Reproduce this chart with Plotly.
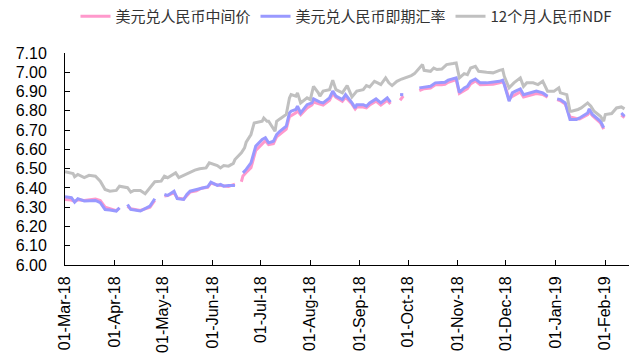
import plotly.graph_objects as go

# Onshore trading dates (None entries mark market holidays)
cny_dates = [
    "2018-03-01", "2018-03-05", "2018-03-07", "2018-03-09", "2018-03-13", "2018-03-16",
    "2018-03-20", "2018-03-23", "2018-03-26", "2018-03-29", "2018-04-02", "2018-04-04",
    "2018-04-05", "2018-04-09", "2018-04-11", "2018-04-17", "2018-04-20", "2018-04-23",
    "2018-04-26", "2018-04-30", "2018-05-02", "2018-05-04", "2018-05-08", "2018-05-10",
    "2018-05-14", "2018-05-16", "2018-05-18", "2018-05-22", "2018-05-25", "2018-05-29",
    "2018-05-31", "2018-06-04", "2018-06-06", "2018-06-08", "2018-06-11", "2018-06-15",
    "2018-06-18", "2018-06-19", "2018-06-20", "2018-06-22", "2018-06-25", "2018-06-28",
    "2018-07-02", "2018-07-04", "2018-07-06", "2018-07-09", "2018-07-11", "2018-07-13",
    "2018-07-17", "2018-07-19", "2018-07-20", "2018-07-23", "2018-07-24", "2018-07-26",
    "2018-07-30", "2018-08-02", "2018-08-03", "2018-08-07", "2018-08-09", "2018-08-13",
    "2018-08-15", "2018-08-17", "2018-08-21", "2018-08-23", "2018-08-27", "2018-08-29",
    "2018-08-30", "2018-09-03", "2018-09-05", "2018-09-07", "2018-09-11", "2018-09-14",
    "2018-09-18", "2018-09-20", "2018-09-24", "2018-09-26", "2018-09-28", "2018-10-01",
    "2018-10-08", "2018-10-11", "2018-10-15", "2018-10-18", "2018-10-22", "2018-10-24",
    "2018-10-26", "2018-10-31", "2018-11-02", "2018-11-05", "2018-11-07", "2018-11-09",
    "2018-11-12", "2018-11-15", "2018-11-19", "2018-11-23", "2018-11-27", "2018-11-29",
    "2018-11-30", "2018-12-03", "2018-12-05", "2018-12-07", "2018-12-10", "2018-12-12",
    "2018-12-17", "2018-12-20", "2018-12-24", "2018-12-27", "2018-12-31", "2019-01-02",
    "2019-01-04", "2019-01-07", "2019-01-10", "2019-01-14", "2019-01-16", "2019-01-21",
    "2019-01-22", "2019-01-24", "2019-01-29", "2019-01-31", "2019-02-04", "2019-02-11",
    "2019-02-13",
]

# USD/CNY central parity
mid_rate = [
    6.340, 6.337, 6.330, 6.338, 6.335, 6.338,
    6.342, 6.335, 6.300, 6.292, 6.282, 6.295,
    None, 6.305, 6.292, 6.283, 6.290, 6.300,
    6.335, None, 6.358, 6.360, 6.375, 6.348,
    6.342, 6.360, 6.378, 6.385, 6.398, 6.403,
    6.425, 6.415, 6.412, 6.410, 6.408, 6.420,
    None, 6.432, 6.462, 6.480, 6.505, 6.595,
    6.625, 6.645, 6.625, 6.630, 6.665, 6.680,
    6.705, 6.770, 6.775, 6.790, 6.800, 6.780,
    6.815, 6.830, 6.845, 6.835, 6.830, 6.855,
    6.890, 6.870, 6.850, 6.870, 6.835, 6.810,
    6.820, 6.820, 6.815, 6.830, 6.850, 6.830,
    6.855, 6.835, None, 6.855, 6.876, None,
    6.905, 6.915, 6.918, 6.935, 6.935, 6.938,
    6.948, 6.962, 6.890, 6.905, 6.915, 6.940,
    6.955, 6.935, 6.935, 6.938, 6.945, 6.950,
    6.940, 6.862, 6.875, 6.885, 6.898, 6.872,
    6.882, 6.890, 6.885, 6.870, None, 6.858,
    6.852, 6.835, 6.768, 6.760, 6.758, 6.780,
    6.795, 6.775, 6.738, 6.705, None, 6.778,
    6.765,
]

# USD/CNY spot rate
spot_rate = [
    6.354, 6.349, 6.326, 6.344, 6.332, 6.332,
    6.335, 6.323, 6.288, 6.285, 6.280, 6.297,
    None, 6.314, 6.288, 6.280, 6.292, 6.306,
    6.344, None, 6.366, 6.361, 6.383, 6.344,
    6.340, 6.366, 6.383, 6.392, 6.401, 6.406,
    6.430, 6.413, 6.418, 6.409, 6.413, 6.413,
    None, None, 6.478, 6.496, 6.530, 6.617,
    6.651, 6.660, 6.634, 6.642, 6.677, 6.694,
    6.720, 6.789, 6.798, 6.807, 6.824, 6.789,
    6.832, 6.841, 6.862, 6.845, 6.841, 6.867,
    6.902, 6.876, 6.858, 6.884, 6.841, 6.815,
    6.832, 6.832, 6.824, 6.841, 6.862, 6.841,
    6.867, 6.845, None, 6.884, 6.884, None,
    6.919, 6.924, 6.927, 6.945, 6.945, 6.948,
    6.959, 6.971, 6.896, 6.919, 6.927, 6.953,
    6.965, 6.945, 6.945, 6.948, 6.953, 6.959,
    6.936, 6.850, 6.893, 6.902, 6.914, 6.884,
    6.896, 6.902, 6.893, 6.876, None, 6.862,
    6.858, 6.841, 6.755, 6.755, 6.763, 6.789,
    6.810, 6.781, 6.746, 6.712, None, 6.789,
    6.772,
]

# 12-month USD/CNY NDF
ndf_dates = [
    "2018-03-01", "2018-03-06", "2018-03-07", "2018-03-09", "2018-03-13", "2018-03-16",
    "2018-03-20", "2018-03-23", "2018-03-26", "2018-03-29", "2018-04-02", "2018-04-04",
    "2018-04-09", "2018-04-11", "2018-04-13", "2018-04-17", "2018-04-20", "2018-04-23",
    "2018-04-26", "2018-04-30", "2018-05-02", "2018-05-04", "2018-05-09", "2018-05-11",
    "2018-05-15", "2018-05-18", "2018-05-21", "2018-05-24", "2018-05-28", "2018-05-30",
    "2018-06-04", "2018-06-06", "2018-06-08", "2018-06-11", "2018-06-14", "2018-06-15",
    "2018-06-19", "2018-06-21", "2018-06-22", "2018-06-25", "2018-06-27", "2018-07-02",
    "2018-07-03", "2018-07-05", "2018-07-06", "2018-07-10", "2018-07-11", "2018-07-13",
    "2018-07-17", "2018-07-19", "2018-07-20", "2018-07-23", "2018-07-24", "2018-07-26",
    "2018-07-30", "2018-08-01", "2018-08-03", "2018-08-06", "2018-08-07", "2018-08-09",
    "2018-08-13", "2018-08-15", "2018-08-17", "2018-08-21", "2018-08-24", "2018-08-27",
    "2018-08-30", "2018-09-03", "2018-09-05", "2018-09-07", "2018-09-10", "2018-09-12",
    "2018-09-14", "2018-09-17", "2018-09-19", "2018-09-21", "2018-09-24", "2018-09-27",
    "2018-10-01", "2018-10-03", "2018-10-05", "2018-10-08", "2018-10-10", "2018-10-11",
    "2018-10-15", "2018-10-17", "2018-10-19", "2018-10-22", "2018-10-25", "2018-10-29",
    "2018-10-31", "2018-11-02", "2018-11-05", "2018-11-07", "2018-11-09", "2018-11-12",
    "2018-11-14", "2018-11-19", "2018-11-23", "2018-11-27", "2018-11-29", "2018-11-30",
    "2018-12-03", "2018-12-06", "2018-12-10", "2018-12-12", "2018-12-14", "2018-12-18",
    "2018-12-21", "2018-12-24", "2018-12-27", "2018-12-31", "2019-01-03", "2019-01-04",
    "2019-01-08", "2019-01-10", "2019-01-11", "2019-01-15", "2019-01-17", "2019-01-21",
    "2019-01-23", "2019-01-25", "2019-01-29", "2019-01-31", "2019-02-01", "2019-02-05",
    "2019-02-08", "2019-02-11", "2019-02-13",
]

ndf_rate = [
    6.484, 6.475, 6.458, 6.470, 6.453, 6.465,
    6.461, 6.435, 6.392, 6.383, 6.387, 6.409,
    6.401, 6.378, 6.387, 6.387, 6.370, 6.401,
    6.432, 6.435, 6.461, 6.453, 6.478, 6.453,
    6.470, 6.482, 6.492, 6.499, 6.504, 6.530,
    6.516, 6.504, 6.516, 6.513, 6.527, 6.547,
    6.582, 6.608, 6.637, 6.677, 6.737, 6.746,
    6.763, 6.746, 6.746, 6.694, 6.746, 6.758,
    6.781, 6.867, 6.884, 6.876, 6.893, 6.841,
    6.867, 6.858, 6.927, 6.893, 6.876, 6.902,
    6.910, 6.959, 6.910, 6.893, 6.931, 6.872,
    6.902, 6.910, 6.931, 6.924, 6.953, 6.945,
    6.936, 6.971, 6.945, 6.931, 6.953, 6.965,
    6.976, 6.983, 6.993, 7.022, 7.040, 7.010,
    7.005, 7.022, 7.014, 7.017, 7.040, 7.045,
    7.048, 6.971, 6.993, 6.988, 7.022, 7.031,
    7.005, 7.000, 6.997, 7.010, 7.014, 6.979,
    6.919, 6.945, 6.971, 6.927, 6.945, 6.945,
    6.936, 6.953, 6.902, 6.902, 6.919, 6.893,
    6.884, 6.798, 6.798, 6.807, 6.815, 6.841,
    6.824, 6.798, 6.772, 6.746, 6.781, 6.786,
    6.815, 6.820, 6.810,
]

series_names = ["美元兑人民币中间价", "美元兑人民币即期汇率", "12个月人民币NDF"]
month_ticks = [
    "2018-03-01", "2018-04-01", "2018-05-01", "2018-06-01", "2018-07-01", "2018-08-01",
    "2018-09-01", "2018-10-01", "2018-11-01", "2018-12-01", "2019-01-01", "2019-02-01",
]
month_labels = [
    "01-Mar-18", "01-Apr-18", "01-May-18", "01-Jun-18", "01-Jul-18", "01-Aug-18",
    "01-Sep-18", "01-Oct-18", "01-Nov-18", "01-Dec-18", "01-Jan-19", "01-Feb-19",
]
y_ticks = [6.00, 6.10, 6.20, 6.30, 6.40, 6.50, 6.60, 6.70, 6.80, 6.90, 7.00, 7.10]

colors = ["#FF99CC", "#9999FF", "#C0C0C0"]
axis_font = dict(family="Arial, Liberation Sans, sans-serif", size=16, color="black")

fig = go.Figure()
fig.add_trace(go.Scatter(x=cny_dates, y=mid_rate, name=series_names[0], mode="lines",
                         line=dict(color=colors[0], width=3), connectgaps=False))
fig.add_trace(go.Scatter(x=cny_dates, y=spot_rate, name=series_names[1], mode="lines",
                         line=dict(color=colors[1], width=3), connectgaps=False))
fig.add_trace(go.Scatter(x=ndf_dates, y=ndf_rate, name=series_names[2], mode="lines",
                         line=dict(color=colors[2], width=3)))

fig.update_layout(
    width=629, height=360,
    margin=dict(l=65, r=0, t=53, b=95),
    paper_bgcolor="white", plot_bgcolor="white",
    font=dict(family="Arial, Liberation Sans, sans-serif", size=15, color="black"),
    showlegend=True,
    legend=dict(
        orientation="h", xref="container", yref="container",
        x=0.12, y=1.0, xanchor="left", yanchor="top",
        font=dict(family="Noto Sans CJK SC", size=15, color="#333333"),
        itemwidth=30, tracegroupgap=0, bgcolor="rgba(0,0,0,0)",
    ),
    xaxis=dict(
        type="date", range=["2018-03-01", "2019-02-15 19:00"],
        tickvals=month_ticks, ticktext=month_labels, tickangle=-90,
        ticks="inside", ticklen=5, tickcolor="black",
        showline=True, linecolor="black", linewidth=1,
        showgrid=False, zeroline=False, ticklabelstandoff=4,
        tickfont=axis_font,
    ),
    yaxis=dict(
        range=[6.0, 7.1], tickvals=y_ticks, tickformat=".2f",
        ticks="inside", ticklen=5, tickcolor="black",
        showline=True, linecolor="black", linewidth=1,
        showgrid=False, zeroline=False, ticklabelstandoff=14,
        tickfont=axis_font,
    ),
)

fig.write_html("out.html")
